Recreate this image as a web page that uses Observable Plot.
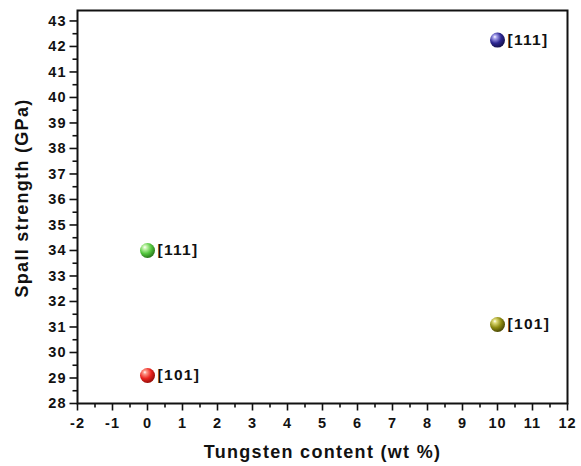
<!DOCTYPE html>
<html>
<head>
<meta charset="utf-8">
<script src="https://cdn.jsdelivr.net/npm/d3@7"></script>
<script src="https://cdn.jsdelivr.net/npm/@observablehq/plot@0.6"></script>
<style>
  body { margin: 0; background: #fff; }
  #chart svg { font-family: "Liberation Sans", Arial, sans-serif; }
</style>
</head>
<body>
<div id="chart"></div>
<script>
const tungsten = [0, 0, 10, 10];
const spall = [29.1, 34.0, 31.1, 42.25];
const orientation = ["[101]", "[111]", "[101]", "[111]"];
const xTicks = d3.range(-2, 13, 1);
const yTicks = d3.range(28, 44, 1);
const xMinor = d3.range(-1.5, 12, 1);
const yMinor = d3.range(28.5, 43, 1);
const xLabel = "Tungsten content (wt %)";
const yLabel = "Spall strength (GPa)";

const palette = [
  {id: "gRed", light: "#ff9a8a", mid: "#ea2520", dark: "#9a0e0a"},
  {id: "gGreen", light: "#c8f5b0", mid: "#55c840", dark: "#2a7a1c"},
  {id: "gOlive", light: "#e0dc7a", mid: "#8f8c12", dark: "#4e4c05"},
  {id: "gBlue", light: "#a9a4ee", mid: "#2d2792", dark: "#15114f"}
];

const data = tungsten.map((x, i) => ({x, y: spall[i], label: orientation[i]}));

const dotMarks = data.map((d, i) =>
  Plot.dot([d], {x: "x", y: "y", r: 7.5, fill: `url(#${palette[i].id})`, stroke: "none"})
);

const chart = Plot.plot({
  width: 581,
  height: 466,
  marginLeft: 77,
  marginRight: 14,
  marginTop: 10,
  marginBottom: 63,
  x: {domain: [-2, 12]},
  y: {domain: [28, 43.41]},
  style: {fontFamily: "Liberation Sans, Arial, sans-serif", color: "#111"},
  marks: [
    Plot.axisX({ticks: xMinor, tickSize: 4.5, text: null, label: null, strokeWidth: 1.6}),
    Plot.axisY({ticks: yMinor, tickSize: 4.5, text: null, label: null, strokeWidth: 1.6}),
    Plot.axisX({ticks: xTicks, tickSize: 7.5, tickPadding: 7, fontSize: 14.5, fontWeight: "bold", strokeWidth: 1.6,
      tickFormat: d => String(d), label: null}),
    Plot.axisY({ticks: yTicks, tickSize: 7.5, tickPadding: 3.5, fontSize: 14.5, fontWeight: "bold", strokeWidth: 1.6,
      tickFormat: d => String(d), label: null}),
    Plot.frame({stroke: "#111", strokeWidth: 2}),
    Plot.text([xLabel], {frameAnchor: "bottom", dy: 49, lineAnchor: "middle", textAnchor: "middle", fontSize: 18, fontWeight: "bold", fill: "#111"}),
    Plot.text([yLabel], {frameAnchor: "left", dx: -55, dy: -9, rotate: -90, lineAnchor: "middle", textAnchor: "middle", fontSize: 18, fontWeight: "bold", fill: "#111"}),
    ...dotMarks,
    Plot.text(data, {x: "x", y: "y", text: "label", dx: 10, textAnchor: "start", fontSize: 15.5, fontWeight: "bold", fill: "#111"})
  ]
});

const svg = d3.select(chart);
const defs = svg.insert("defs", ":first-child");
palette.forEach(p => {
  const g = defs.append("radialGradient").attr("id", p.id)
    .attr("cx", "0.38").attr("cy", "0.35").attr("r", "0.65").attr("fx", "0.32").attr("fy", "0.28");
  g.append("stop").attr("offset", "0").attr("stop-color", "#ffffff");
  g.append("stop").attr("offset", "0.18").attr("stop-color", p.light);
  g.append("stop").attr("offset", "0.6").attr("stop-color", p.mid);
  g.append("stop").attr("offset", "1").attr("stop-color", p.dark);
});
// the source figure's lettering is slightly wider than Liberation Sans
svg.selectAll("g[aria-label$='tick label']").attr("letter-spacing", "1px");
svg.selectAll("g[aria-label='text']").attr("letter-spacing", "1.3px");

document.getElementById("chart").appendChild(chart);
</script>
</body>
</html>
